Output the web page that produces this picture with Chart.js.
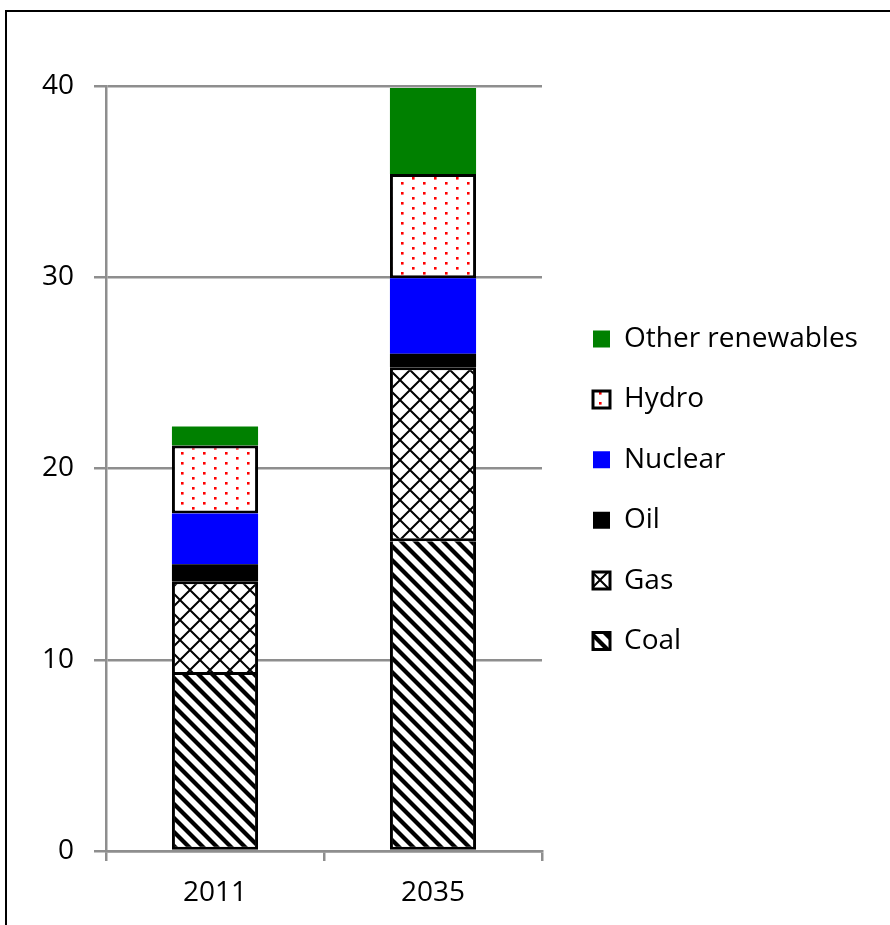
<!DOCTYPE html>
<html>
<head>
<meta charset="utf-8">
<script src="https://cdn.jsdelivr.net/npm/chart.js@4.4.0/dist/chart.umd.min.js"></script>
<style>
  html, body { margin: 0; padding: 0; background: #fff; overflow: hidden; width: 890px; height: 925px; }
  #frame { position: absolute; left: 5px; top: 10px; width: 885px; height: 915px; border-top: 2px solid #000; border-left: 2px solid #000; box-sizing: border-box; }
  #wrap { position: absolute; left: 0; top: 0; width: 890px; height: 925px; }
</style>
</head>
<body>
<div id="frame"></div>
<div id="wrap"><canvas id="chart" width="890" height="925"></canvas></div>
<script>
// Electricity generation by source (stacked, bottom to top)
const years = ['2011', '2035'];
const coal = [9.2, 16.2];
const gas = [4.9, 9.1];
const oil = [0.9, 0.7];
const nuclear = [2.65, 3.95];
const hydro = [3.55, 5.45];
const otherRenewables = [1.0, 4.5];
const yTicks = [0, 10, 20, 30, 40];

const FONT = { family: "'Open Sans'", size: 28 };
const GRID = '#8e8e8e';

// Fill patterns
function makeTile(w, h, draw) {
  const c = document.createElement('canvas');
  c.width = w; c.height = h;
  const g = c.getContext('2d');
  g.fillStyle = '#fff';
  g.fillRect(0, 0, w, h);
  draw(g, w, h);
  return document.getElementById('chart').getContext('2d').createPattern(c, 'repeat');
}

const coalPattern = makeTile(14, 14, (g, w) => {
  g.strokeStyle = '#000';
  g.lineWidth = 4.2;
  for (let k = -1; k <= 1; k++) {
    g.beginPath();
    g.moveTo(k * w - 2, -2);
    g.lineTo(k * w + w + 2, w + 2);
    g.stroke();
  }
});

const gasPattern = makeTile(20, 20, (g, w) => {
  g.strokeStyle = '#000';
  g.lineWidth = 2;
  g.beginPath();
  g.moveTo(-1, -1); g.lineTo(w + 1, w + 1);
  g.moveTo(w + 1, -1); g.lineTo(-1, w + 1);
  g.stroke();
});

const hydroPattern = makeTile(22, 10, (g) => {
  g.fillStyle = '#ff0000';
  g.fillRect(5, 2, 2.6, 2.6);
  g.fillRect(16, 7, 2.6, 2.6);
});

const series = [
  // the gas outline above supplies the shared edge
  { label: 'Coal', data: coal, backgroundColor: coalPattern, borderColor: '#000', borderWidth: 3, borderSkipped: 'top' },
  { label: 'Gas', data: gas, backgroundColor: gasPattern, borderColor: '#000', borderWidth: 3 },
  { label: 'Oil', data: oil, backgroundColor: '#000000', borderWidth: 0 },
  { label: 'Nuclear', data: nuclear, backgroundColor: '#0000ff', borderWidth: 0 },
  { label: 'Hydro', data: hydro, backgroundColor: hydroPattern, borderColor: '#000', borderWidth: 3 },
  { label: 'Other renewables', data: otherRenewables, backgroundColor: '#008000', borderWidth: 0 }
];

const LEGEND_WIDTH = 348;
const LEGEND_X = 593;
const LEGEND_FIRST_Y = 339;
const LEGEND_PAD = 32.4;

// Fixed legend column on the right
const legendPlacement = {
  id: 'legendPlacement',
  beforeUpdate(chart) {
    const lg = chart.legend;
    if (lg && !lg._fixedWidth) {
      const fit = lg.fit.bind(lg);
      lg.fit = function () { fit(); this.width = LEGEND_WIDTH; };
      lg._fixedWidth = true;
    }
  },
  afterLayout(chart) {
    const lg = chart.legend;
    lg.left = LEGEND_X - LEGEND_PAD;
    lg.top = LEGEND_FIRST_Y - FONT.size / 2 - LEGEND_PAD;
  }
};

new Chart(document.getElementById('chart'), {
  type: 'bar',
  data: {
    labels: years,
    datasets: series.map(s => Object.assign({
      borderSkipped: false,
      categoryPercentage: 1,
      barPercentage: 0.395
    }, s))
  },
  options: {
    responsive: false,
    devicePixelRatio: 1,
    animation: false,
    layout: { padding: { top: 86, left: 0, right: 0, bottom: 0 } },
    plugins: {
      tooltip: { enabled: false },
      legend: {
        position: 'right',
        align: 'start',
        reverse: true,
        labels: {
          boxWidth: 17,
          boxHeight: 17,
          padding: LEGEND_PAD,
          color: '#000',
          font: FONT
        }
      }
    },
    scales: {
      x: {
        stacked: true,
        afterFit(scale) { scale.height = 925 - 851; },
        grid: {
          drawOnChartArea: false,
          drawTicks: true,
          tickLength: 10,
          color: GRID,
          lineWidth: 2.5,
          offset: true
        },
        border: { display: true, color: GRID, width: 2.5 },
        ticks: { color: '#000', font: FONT, padding: 15 }
      },
      y: {
        stacked: true,
        min: 0,
        max: 40,
        afterFit(scale) { scale.width = 106; },
        afterBuildTicks(scale) { scale.ticks = yTicks.map(v => ({ value: v })); },
        grid: { color: GRID, lineWidth: 2.5, tickLength: 12 },
        border: { display: true, color: GRID, width: 2.5 },
        ticks: { color: '#000', font: FONT, padding: 20 }
      }
    }
  },
  plugins: [legendPlacement]
});
</script>
</body>
</html>
